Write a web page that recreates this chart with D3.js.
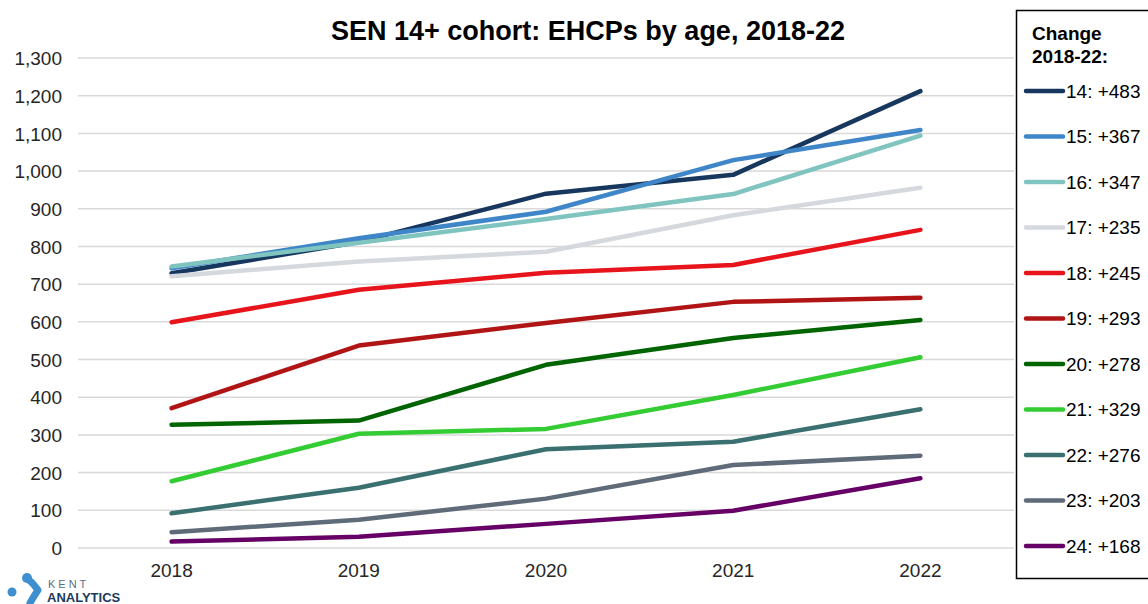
<!DOCTYPE html>
<html>
<head>
<meta charset="utf-8">
<script src="https://cdn.jsdelivr.net/npm/d3@7"></script>
<style>
  html, body { margin: 0; padding: 0; background: #ffffff; }
  svg { display: block; font-family: "Liberation Sans", Arial, sans-serif; }
</style>
</head>
<body>
<svg id="chart" width="1148" height="604"></svg>
<script>
// Reporting years (x categories)
const years = ["2018", "2019", "2020", "2021", "2022"];

// Age groups in the SEN 14+ cohort
const ages = ["14", "15", "16", "17", "18", "19", "20", "21", "22", "23", "24"];

// EHCP counts per age, one array per year order 2018..2022
const age14 = [729, 812, 940, 990, 1212];
const age15 = [742, 822, 892, 1029, 1109];
const age16 = [747, 810, 873, 939, 1094];
const age17 = [721, 760, 786, 883, 956];
const age18 = [599, 685, 730, 751, 844];
const age19 = [371, 537, 597, 653, 664];
const age20 = [327, 338, 486, 557, 605];
const age21 = [177, 303, 316, 406, 506];
const age22 = [92, 160, 262, 282, 368];
const age23 = [42, 75, 131, 220, 245];
const age24 = [17, 30, 64, 99, 185];

const seriesValues = [age14, age15, age16, age17, age18, age19, age20, age21, age22, age23, age24];

// Line colours per age
const colours = ["#17375e", "#3f86c8", "#80c4c0", "#d5d9dd", "#e8141c", "#b01414",
                 "#006400", "#33cc33", "#3a7070", "#5f6b78", "#660066"];

// Y axis ticks
const yTicks = [0, 100, 200, 300, 400, 500, 600, 700, 800, 900, 1000, 1100, 1200, 1300];

const svg = d3.select("#chart");

const plot = { left: 78, right: 1014, top: 58, bottom: 548 };

const x = d3.scaleBand().domain(years).range([plot.left, plot.right]);
const y = d3.scaleLinear().domain([0, 1300]).range([plot.bottom, plot.top]);
const xc = d => x(d) + x.bandwidth() / 2;

// Title
svg.append("text")
  .attr("x", 588).attr("y", 40)
  .attr("text-anchor", "middle")
  .attr("font-size", 27).attr("font-weight", "bold").attr("fill", "#000")
  .text("SEN 14+ cohort: EHCPs by age, 2018-22");

// Horizontal gridlines
svg.append("g").selectAll("line")
  .data(yTicks).join("line")
  .attr("x1", plot.left).attr("x2", plot.right)
  .attr("y1", d => y(d)).attr("y2", d => y(d))
  .attr("stroke", "#d9d9d9").attr("stroke-width", 1.5);

// Y axis labels
const yAxis = d3.axisLeft(y).tickValues(yTicks).tickFormat(d3.format(",")).tickSize(0).tickPadding(0);
const gy = svg.append("g").attr("transform", "translate(62,0)").call(yAxis);
gy.select(".domain").remove();
gy.selectAll("text").attr("font-size", 19).attr("fill", "#262626")
  .attr("font-family", "Liberation Sans, Arial, sans-serif").attr("dy", "0.35em");

// X axis labels
const xAxis = d3.axisBottom(x).tickSize(0).tickPadding(0);
const gx = svg.append("g").attr("transform", "translate(0,570)").call(xAxis);
gx.select(".domain").remove();
gx.selectAll("text").attr("font-size", 19).attr("fill", "#262626")
  .attr("font-family", "Liberation Sans, Arial, sans-serif").attr("dy", "0.35em");

// Series lines
const line = d3.line()
  .x((d, i) => xc(years[i]))
  .y(d => y(d));

svg.append("g").selectAll("path")
  .data(seriesValues).join("path")
  .attr("d", d => line(d))
  .attr("fill", "none")
  .attr("stroke", (d, i) => colours[i])
  .attr("stroke-width", 4.5)
  .attr("stroke-linecap", "round")
  .attr("stroke-linejoin", "round");

// Legend box with change over the period
const legend = svg.append("g");
legend.append("rect")
  .attr("x", 1016.5).attr("y", 10.5).attr("width", 140).attr("height", 568)
  .attr("fill", "#fff").attr("stroke", "#000").attr("stroke-width", 1.5);
legend.append("text").attr("x", 1032).attr("y", 40)
  .attr("font-size", 19).attr("font-weight", "bold").text("Change");
legend.append("text").attr("x", 1032).attr("y", 63)
  .attr("font-size", 19).attr("font-weight", "bold").text("2018-22:");

const legendY = d3.scalePoint().domain(ages).range([91, 546]);
const items = legend.selectAll("g.item").data(ages).join("g").attr("class", "item")
  .attr("transform", d => `translate(0,${legendY(d)})`);
items.append("line")
  .attr("x1", 1026).attr("x2", 1063).attr("y1", 0).attr("y2", 0)
  .attr("stroke", (d, i) => colours[i]).attr("stroke-width", 4.5)
  .attr("stroke-linecap", "round");
items.append("text")
  .attr("x", 1066).attr("y", 0).attr("dy", "0.35em")
  .attr("font-size", 19).attr("fill", "#000")
  .text((d, i) => {
    const v = seriesValues[i];
    const change = v[v.length - 1] - v[0];
    return `${d}: +${change}`;
  });

// Kent Analytics logo
const logo = svg.append("g");
logo.append("path")
  .attr("d", "M28,579 Q33,583 38,590 Q34,596 30,603")
  .attr("stroke", "#3d8fd0").attr("stroke-width", 7).attr("fill", "none")
  .attr("stroke-linecap", "round").attr("stroke-linejoin", "round");
logo.append("circle").attr("cx", 12).attr("cy", 592).attr("r", 4.5).attr("fill", "#3d8fd0");
logo.append("circle").attr("cx", 27).attr("cy", 578).attr("r", 5).attr("fill", "#3d8fd0");
logo.append("text").attr("x", 48).attr("y", 588)
  .attr("font-size", 11).attr("letter-spacing", 3).attr("fill", "#5a6e85").text("KENT");
logo.append("text").attr("x", 47).attr("y", 601.5)
  .attr("font-size", 13).attr("font-weight", "bold").attr("fill", "#1b3a5c").text("ANALYTICS");
</script>
</body>
</html>
